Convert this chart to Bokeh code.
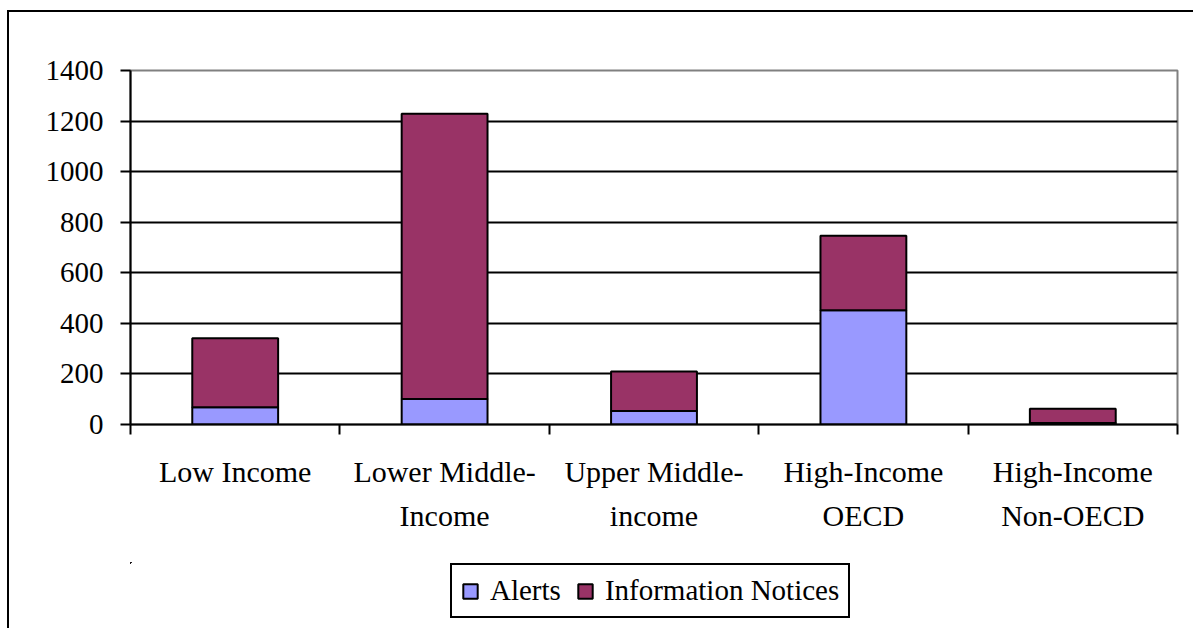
from bokeh.plotting import figure
from bokeh.layouts import column
from bokeh.models import FixedTicker, Legend, LegendItem, ColumnDataSource, Range1d
from bokeh.embed import file_html
from bokeh.resources import INLINE

categories = ["Low Income", "Lower Middle-\nIncome", "Upper Middle-\nincome",
              "High-Income\nOECD", "High-Income\nNon-OECD"]
alerts = [68, 101, 53, 452, 6]
info_notices = [273, 1128, 157, 294, 56]
y_ticks = [0, 200, 400, 600, 800, 1000, 1200, 1400]
series_names = ["Alerts", "Information Notices"]
series_colors = ["#9999FF", "#993366"]

FONT = "Liberation Serif"

xs = [i + 0.5 for i in range(len(categories))]
src = ColumnDataSource(dict(x=xs, alerts=alerts, info=info_notices))

p = figure(width=1184, height=550, output_backend="svg", toolbar_location=None,
           x_range=Range1d(0, len(categories)), y_range=Range1d(0, 1400),
           min_border_left=121, min_border_right=16, min_border_top=58, min_border_bottom=138)

renderers = p.vbar_stack(["alerts", "info"], x="x", width=0.41, source=src,
                         color=series_colors, line_color="black", line_width=2)
for r, c in zip(renderers, series_colors):
    r.glyph.fill_color = c
    r.glyph.line_color = "black"

p.outline_line_color = "#808080"
p.outline_line_width = 2
p.background_fill_color = "white"
p.border_fill_color = "white"

# grid
p.xgrid.visible = False
p.ygrid.ticker = FixedTicker(ticks=[t for t in y_ticks if 0 < t < 1400])
p.ygrid.grid_line_color = "black"
p.ygrid.grid_line_width = 2

# y axis
ya = p.yaxis[0]
ya.ticker = FixedTicker(ticks=y_ticks)
ya.axis_line_color = "black"
ya.axis_line_width = 2
ya.major_tick_line_color = "black"
ya.major_tick_line_width = 2
ya.major_tick_out = 10
ya.major_tick_in = 0
ya.minor_tick_line_color = None
ya.major_label_text_font = FONT
ya.major_label_text_font_size = "29px"
ya.major_label_text_color = "black"
ya.major_label_standoff = 17

# x axis
xa = p.xaxis[0]
xa.ticker = FixedTicker(ticks=xs, minor_ticks=list(range(len(categories) + 1)))
xa.major_label_overrides = {x: c for x, c in zip(xs, categories)}
xa.axis_line_color = "black"
xa.axis_line_width = 2
xa.major_tick_line_color = None
xa.major_tick_out = 0
xa.major_tick_in = 0
xa.minor_tick_line_color = "black"
xa.minor_tick_line_width = 2
xa.minor_tick_out = 10
xa.minor_tick_in = 0
xa.major_label_text_font = FONT
xa.major_label_text_font_size = "30px"
xa.major_label_text_color = "black"
xa.major_label_text_line_height = 1.36
xa.major_label_standoff = 20

# legend strip below the chart (same series, kept out of view; only the legend shows)
lg = figure(width=1184, height=66, output_backend="svg", toolbar_location=None,
            x_axis_type=None, y_axis_type=None,
            x_range=Range1d(100, 105), y_range=Range1d(-2000, -1000),
            min_border_left=0, min_border_right=0, min_border_top=0, min_border_bottom=0)
lg.outline_line_color = None
lg.xgrid.visible = False
lg.ygrid.visible = False
lg.background_fill_color = "white"
lg.border_fill_color = "white"
lg_renderers = lg.vbar_stack(["alerts", "info"], x="x", width=0.41, source=src,
                             color=series_colors, line_color="black", line_width=2)
for r, c in zip(lg_renderers, series_colors):
    r.glyph.fill_color = c
    r.glyph.line_color = "black"

items = [LegendItem(label=n, renderers=[r]) for n, r in zip(series_names, lg_renderers)]
legend = Legend(items=items, orientation="horizontal", location=(320, 10), margin=0,
                padding=9, spacing=15, label_standoff=11,
                glyph_width=18, glyph_height=18,
                label_text_font=FONT, label_text_font_size="29px", label_text_color="black",
                border_line_color="black", border_line_width=2, border_line_alpha=1,
                background_fill_color="white", background_fill_alpha=1)
lg.add_layout(legend)

layout = column(p, lg, spacing=0)
layout.styles = {"border-left": "2px solid black", "border-top": "2px solid black",
                 "margin-top": "10px", "margin-left": "7px"}

open("out.html", "w").write(file_html(layout, INLINE))
